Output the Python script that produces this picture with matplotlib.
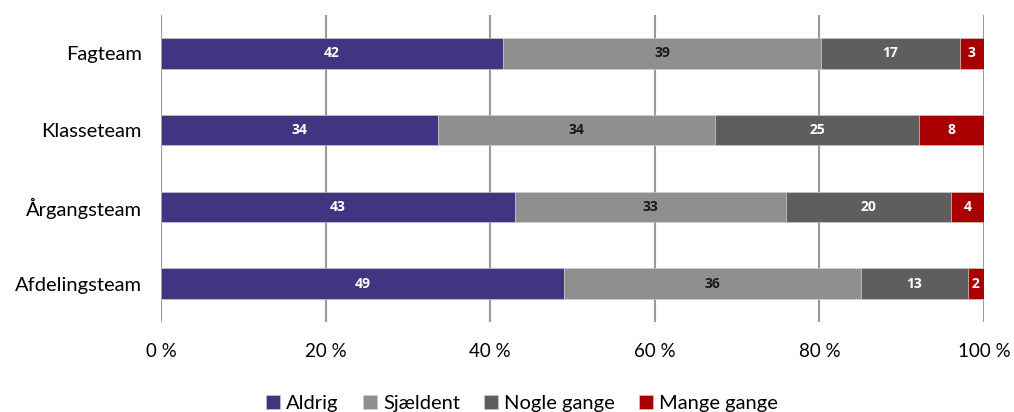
import matplotlib
matplotlib.use("Agg")
import matplotlib.pyplot as plt
import numpy as np

plt.rcParams['font.family'] = ['Lato', 'DejaVu Sans']

categories = ["Fagteam", "Klasseteam", "Årgangsteam", "Afdelingsteam"]
series_names = ["Aldrig", "Sjældent", "Nogle gange", "Mange gange"]
aldrig = [42, 34, 43, 49]
sjaeldent = [39, 34, 33, 36]
nogle_gange = [17, 25, 20, 13]
mange_gange = [3, 8, 4, 2]
x_ticks = [0, 20, 40, 60, 80, 100]
x_tick_labels = ["0 %", "20 %", "40 %", "60 %", "80 %", "100 %"]

colors = ["#433481", "#8f8f8f", "#5e5e5e", "#a80000"]
label_colors = ["white", "#1a1a1a", "white", "white"]

data = np.array([aldrig, sjaeldent, nogle_gange, mange_gange], dtype=float)
shares = data / data.sum(axis=0) * 100

fig = plt.figure(figsize=(10.14, 4.12), dpi=100)
ax = fig.add_axes([161 / 1014, 1 - 322 / 412, (984 - 161) / 1014, (322 - 15) / 412])

y = np.arange(len(categories))
left = np.zeros(len(categories))
handles = []
for i, name in enumerate(series_names):
    bars = ax.barh(y, shares[i], left=left, height=0.4, color=colors[i],
                   edgecolor="#d0d0d0", linewidth=0.4, label=name, zorder=3)
    handles.append(bars)
    for j in range(len(categories)):
        ax.text(left[j] + shares[i][j] / 2, y[j], f"{int(data[i][j])}",
                ha="center", va="center", fontsize=10, fontweight="bold",
                family=["Open Sans", "DejaVu Sans"],
                color=label_colors[i], zorder=4)
    left += shares[i]

ax.set_xlim(0, 100)
ax.set_ylim(len(categories) - 0.5, -0.5)
ax.set_yticks(y)
ax.set_yticklabels(categories, fontsize=14.5)
ax.set_xticks(x_ticks)
ax.set_xticklabels(x_tick_labels, fontsize=13.5)
ax.tick_params(axis="both", length=0)
ax.tick_params(axis="x", pad=15)
ax.tick_params(axis="y", pad=14)
ax.xaxis.grid(True, color="#9a9a9a", linewidth=1.5, zorder=0)
for s in ax.spines.values():
    s.set_visible(False)

fig.legend(handles=handles, loc="lower center", ncol=4, frameon=False,
           fontsize=14.5, bbox_to_anchor=(0.515, -0.045), handlelength=0.7,
           handleheight=0.7, handletextpad=0.3, columnspacing=1.2)

fig.savefig("out.png", dpi=100)
